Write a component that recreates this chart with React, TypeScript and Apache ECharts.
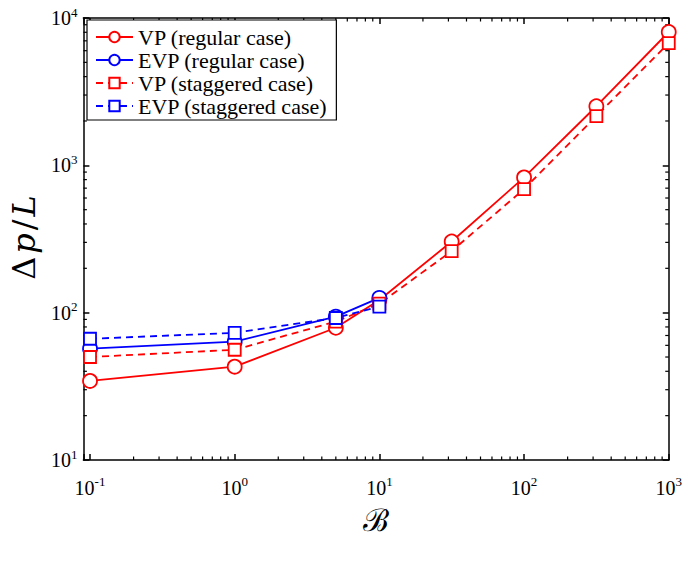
import React, { useEffect, useRef } from 'react';
import * as echarts from 'echarts';

const xValues = [0.1, 1, 5, 10, 31.6, 100, 316, 1000];
const xValuesShort = [0.1, 1, 5, 10];
const vpRegular = [34.4, 43, 79, 122, 304, 828, 2518, 8035];
const evpRegular = [57, 63.5, 94, 126];
const vpStaggered = [50, 56, 87, 115, 262, 690, 2160, 6760];
const evpStaggered = [66.5, 73, 92, 110];
const seriesNames = ['VP (regular case)', 'EVP (regular case)', 'VP (staggered case)', 'EVP (staggered case)'];
const xMinorTicks = [0.2, 0.3, 0.4, 0.5, 0.6, 0.7, 0.8, 0.9, 2, 3, 4, 5, 6, 7, 8, 9, 20, 30, 40, 50, 60, 70, 80, 90, 200, 300, 400, 500, 600, 700, 800, 900];
const yMinorTicks = [20, 30, 40, 50, 60, 70, 80, 90, 200, 300, 400, 500, 600, 700, 800, 900, 2000, 3000, 4000, 5000, 6000, 7000, 8000, 9000];

const SERIF = '"Liberation Serif", "DejaVu Serif", serif';
const DSERIF = '"DejaVu Serif", "Liberation Serif", serif';
const RED = '#ff0000';
const BLUE = '#0000ff';

function powLabel(v: number) {
  const e = Math.log10(v);
  if (Math.abs(e - Math.round(e)) > 1e-6) return '';
  return `{b|10}{s|${Math.round(e)}}`;
}

const labelRich = {
  b: { fontFamily: SERIF, fontSize: 20, color: '#000' },
  s: { fontFamily: SERIF, fontSize: 13, color: '#000', padding: [0, 0, 12, 0] },
};

export default function App() {
  const ref = useRef<HTMLDivElement>(null);
  useEffect(() => {
    document.body.style.margin = '0';
    const chart = echarts.init(ref.current!, null, { renderer: 'svg' });
    const pair = (xs: number[], ys: number[]) => xs.map((x, i) => [x, ys[i]]);
    const axisCommon = {
      axisLine: { show: true, onZero: false, lineStyle: { color: '#000', width: 1.5 } },
      axisTick: { show: true, inside: true, length: 6, lineStyle: { color: '#000', width: 1.5 } },
      splitLine: { show: false },
    };
    const minorTickSeries = (vals: number[], isX: boolean) => ({
      type: 'custom',
      coordinateSystem: 'cartesian2d',
      silent: true,
      clip: false,
      data: vals.map((v) => (isX ? [v, 100] : [1, v])),
      renderItem: (params: any, api: any) => {
        const p = api.coord([api.value(0), api.value(1)]);
        const cs = params.coordSys;
        const st = { stroke: '#000', lineWidth: 1.2 };
        if (isX) {
          return {
            type: 'group',
            children: [
              { type: 'line', shape: { x1: p[0], y1: cs.y + cs.height, x2: p[0], y2: cs.y + cs.height - 3.5 }, style: st },
              { type: 'line', shape: { x1: p[0], y1: cs.y, x2: p[0], y2: cs.y + 3.5 }, style: st },
            ],
          };
        }
        return {
          type: 'group',
          children: [
            { type: 'line', shape: { x1: cs.x, y1: p[1], x2: cs.x + 3.5, y2: p[1] }, style: st },
            { type: 'line', shape: { x1: cs.x + cs.width, y1: p[1], x2: cs.x + cs.width - 3.5, y2: p[1] }, style: st },
          ],
        };
      },
    });
    const lineSeries = (name: string, color: string, data: number[][], dashed: boolean, symbol: string, size: number) => ({
      name,
      type: 'line',
      data,
      symbol,
      symbolSize: size,
      showAllSymbol: true,
      color,
      lineStyle: { color, width: 1.8, type: dashed ? [7, 5] : 'solid' },
      itemStyle: { color: '#fff', borderColor: color, borderWidth: 1.8 },
      z: 3,
    });
    chart.setOption({
      animation: false,
      backgroundColor: '#fff',
      grid: { left: 80, right: 14, top: 18, bottom: 101, containLabel: false },
      legend: {
        data: seriesNames,
        orient: 'vertical',
        left: 87,
        top: 20,
        padding: [6, 9, 3, 8],
        itemGap: 1,
        itemWidth: 37,
        itemHeight: 13,
        borderColor: '#000',
        borderWidth: 1.2,
        borderRadius: 0,
        backgroundColor: '#fff',
        textStyle: { fontFamily: SERIF, fontSize: 22, color: '#000' },
        z: 10,
      },
      xAxis: [
        {
          type: 'log',
          logBase: 10,
          min: 0.09,
          max: 1000,
          position: 'bottom',
          ...axisCommon,
          axisLabel: { formatter: powLabel, rich: labelRich, margin: 15, showMinLabel: true, showMaxLabel: true },
          name: 'ℬ',
          nameLocation: 'middle',
          nameGap: 45,
          nameTextStyle: { fontFamily: SERIF, fontSize: 31, color: '#000' },
        },
        {
          type: 'log',
          logBase: 10,
          min: 0.09,
          max: 1000,
          position: 'top',
          ...axisCommon,
          axisLabel: { show: false },
        },
      ],
      yAxis: [
        {
          type: 'log',
          logBase: 10,
          min: 10,
          max: 10000,
          position: 'left',
          ...axisCommon,
          axisLabel: { formatter: powLabel, rich: labelRich, margin: 6 },
          name: '{u|Δ}{i|p}{u|/}{i|L}',
          nameLocation: 'middle',
          nameRotate: 90,
          nameGap: 36,
          nameTextStyle: {
            rich: {
              u: { fontFamily: DSERIF, fontSize: 32, color: '#000', padding: [0, 3] },
              i: { fontFamily: DSERIF, fontSize: 32, fontStyle: 'italic', color: '#000' },
            },
          },
        },
        {
          type: 'log',
          logBase: 10,
          min: 10,
          max: 10000,
          position: 'right',
          ...axisCommon,
          axisLabel: { show: false },
        },
      ],
      series: [
        lineSeries(seriesNames[0], RED, pair(xValues, vpRegular), false, 'circle', 14),
        lineSeries(seriesNames[1], BLUE, pair(xValuesShort, evpRegular), false, 'circle', 14),
        lineSeries(seriesNames[2], RED, pair(xValues, vpStaggered), true, 'rect', 12),
        lineSeries(seriesNames[3], BLUE, pair(xValuesShort, evpStaggered), true, 'rect', 12),
        minorTickSeries(xMinorTicks, true),
        minorTickSeries(yMinorTicks, false),
      ],
    });
    return () => chart.dispose();
  }, []);
  return <div ref={ref} style={{ width: 685, height: 561 }} />;
}
